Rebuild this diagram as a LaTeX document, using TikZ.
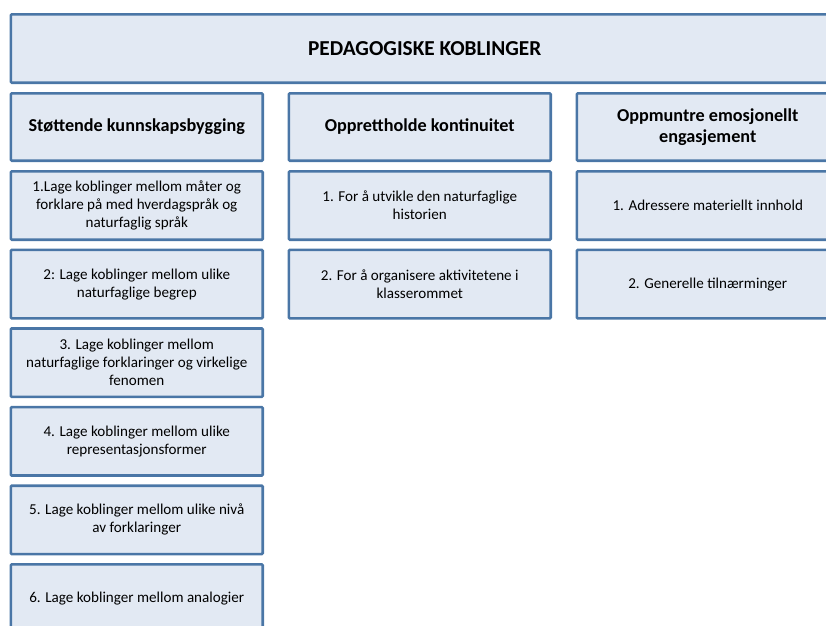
\documentclass[tikz,border=0pt]{standalone}
\usepackage{fontspec}
\setmainfont{Carlito}
\usetikzlibrary{positioning}
\definecolor{boxfill}{HTML}{E2E9F3}
\definecolor{boxline}{HTML}{4A76A6}
\tikzset{
  koblbox/.style={draw=boxline,fill=boxfill,line width=2.6pt,rounded corners=1pt,
    align=center,inner sep=2pt,font=\fontsize{15.1}{18}\selectfont},
  titlebox/.style={koblbox,minimum width=827.9pt,minimum height=68.4pt,
    font=\bfseries\fontsize{21.3}{24}\selectfont},
  headbox/.style={koblbox,minimum height=67.4pt,font=\bfseries\fontsize{18.2}{21}\selectfont},
  itembox/.style={koblbox,minimum height=68.4pt},
  narrowcol/.style={minimum width=251.9pt},
  widecol/.style={minimum width=261.9pt},
}
\begin{document}
\begin{tikzpicture}[x=1pt,y=1pt,node distance=7.6pt]
\useasboundingbox (0,0) rectangle (826,-625);
\clip (0,0) rectangle (826,-625);
\node[titlebox] (title) at (424.75,-48.5) {PEDAGOGISKE KOBLINGER};
% first column
\node[headbox,narrowcol] (stotte) at (136.75,-127) {Støttende kunnskapsbygging};
\node[itembox,narrowcol,below=8pt of stotte] (s1)
  {1.Lage koblinger mellom måter og\\forklare på med hverdagspråk og\\naturfaglig språk};
\node[itembox,narrowcol,below=of s1] (s2) {2: Lage koblinger mellom ulike\\naturfaglige begrep};
\node[itembox,narrowcol,below=of s2] (s3)
  {3. Lage koblinger mellom\\naturfaglige forklaringer og virkelige\\fenomen};
\node[itembox,narrowcol,below=of s3] (s4) {4. Lage koblinger mellom ulike\\representasjonsformer};
\node[itembox,narrowcol,below=of s4] (s5) {5. Lage koblinger mellom ulike nivå\\av forklaringer};
\node[itembox,narrowcol,below=of s5] (s6) {6. Lage koblinger mellom analogier};
% second column
\node[headbox,widecol] (kont) at (419.75,-127) {Opprettholde kontinuitet};
\node[itembox,widecol,below=8pt of kont] (k1) {1. For å utvikle den naturfaglige\\historien};
\node[itembox,widecol,below=of k1] (k2) {2. For å organisere aktivitetene i\\klasserommet};
% third column
\node[headbox,widecol] (emo) at (707.75,-127) {Oppmuntre emosjonellt\\engasjement};
\node[itembox,widecol,below=8pt of emo] (e1) {1. Adressere materiellt innhold};
\node[itembox,widecol,below=of e1] (e2) {2. Generelle tilnærminger};
\end{tikzpicture}
\end{document}
